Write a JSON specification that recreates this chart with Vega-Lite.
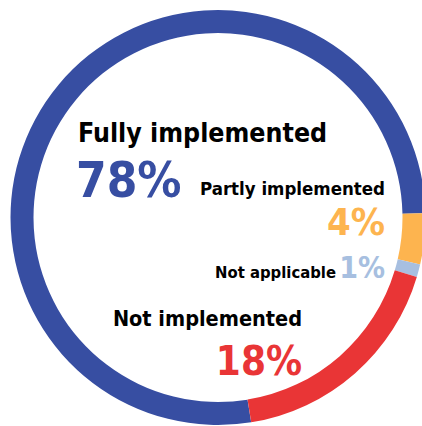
{
  "$schema": "https://vega.github.io/schema/vega-lite/v6.json",
  "width": 436,
  "height": 435,
  "padding": 0,
  "autosize": {"type": "none"},
  "background": "white",
  "view": {"stroke": null},
  "data": {
    "values": [
      {"status": "Fully implemented", "share": 0.78, "rank": 1},
      {"status": "Partly implemented", "share": 0.04, "rank": 2},
      {"status": "Not applicable", "share": 0.01, "rank": 3},
      {"status": "Not implemented", "share": 0.18, "rank": 4}
    ]
  },
  "layer": [
    {
      "mark": {"type": "arc", "outerRadius": 207.5, "innerRadius": 184.5},
      "encoding": {
        "theta": {"field": "share", "type": "quantitative", "stack": true, "scale": {"domain": [0, 1.01], "nice": false, "range": [2.981, 9.264]}},
        "order": {"field": "rank", "type": "quantitative"},
        "color": {
          "field": "status", "type": "nominal", "legend": null,
          "scale": {
            "domain": ["Fully implemented", "Partly implemented", "Not applicable", "Not implemented"],
            "range": ["#374ea2", "#fdb44f", "#a7bfe0", "#e93536"]
          }
        }
      }
    },
    {
      "transform": [{"filter": "datum.status === 'Fully implemented'"}],
      "mark": {"type": "text", "align": "left", "baseline": "alphabetic", "dx": -140, "dy": -75.5, "fontSize": 26.5, "font": "DejaVu Sans Condensed, sans-serif", "fontWeight": "bold", "color": "black"},
      "encoding": {"text": {"field": "status", "type": "nominal"}}
    },
    {
      "transform": [{"filter": "datum.status === 'Fully implemented'"}],
      "mark": {"type": "text", "align": "left", "baseline": "alphabetic", "dx": -142, "dy": -20.5, "fontSize": 49, "font": "DejaVu Sans Condensed, sans-serif", "fontWeight": "bold"},
      "encoding": {"text": {"field": "share", "type": "quantitative", "format": ".0%"}, "color": {"field": "status", "type": "nominal", "legend": null}}
    },
    {
      "transform": [{"filter": "datum.status === 'Partly implemented'"}],
      "mark": {"type": "text", "align": "right", "baseline": "alphabetic", "dx": 167, "dy": -22.5, "fontSize": 18.5, "font": "DejaVu Sans Condensed, sans-serif", "fontWeight": "bold", "color": "black"},
      "encoding": {"text": {"field": "status", "type": "nominal"}}
    },
    {
      "transform": [{"filter": "datum.status === 'Partly implemented'"}],
      "mark": {"type": "text", "align": "right", "baseline": "alphabetic", "dx": 167, "dy": 17.5, "fontSize": 38, "font": "DejaVu Sans Condensed, sans-serif", "fontWeight": "bold"},
      "encoding": {"text": {"field": "share", "type": "quantitative", "format": ".0%"}, "color": {"field": "status", "type": "nominal", "legend": null}}
    },
    {
      "transform": [{"filter": "datum.status === 'Not applicable'"}],
      "mark": {"type": "text", "align": "right", "baseline": "alphabetic", "dx": 118, "dy": 60.5, "fontSize": 16.5, "font": "DejaVu Sans Condensed, sans-serif", "fontWeight": "bold", "color": "black"},
      "encoding": {"text": {"field": "status", "type": "nominal"}}
    },
    {
      "transform": [{"filter": "datum.status === 'Not applicable'"}],
      "mark": {"type": "text", "align": "right", "baseline": "alphabetic", "dx": 167, "dy": 60.5, "fontSize": 30, "font": "DejaVu Sans Condensed, sans-serif", "fontWeight": "bold"},
      "encoding": {"text": {"field": "share", "type": "quantitative", "format": ".0%"}, "color": {"field": "status", "type": "nominal", "legend": null}}
    },
    {
      "transform": [{"filter": "datum.status === 'Not implemented'"}],
      "mark": {"type": "text", "align": "right", "baseline": "alphabetic", "dx": 84, "dy": 108.5, "fontSize": 21.5, "font": "DejaVu Sans Condensed, sans-serif", "fontWeight": "bold", "color": "black"},
      "encoding": {"text": {"field": "status", "type": "nominal"}}
    },
    {
      "transform": [{"filter": "datum.status === 'Not implemented'"}],
      "mark": {"type": "text", "align": "right", "baseline": "alphabetic", "dx": 84, "dy": 157.5, "fontSize": 40, "font": "DejaVu Sans Condensed, sans-serif", "fontWeight": "bold"},
      "encoding": {"text": {"field": "share", "type": "quantitative", "format": ".0%"}, "color": {"field": "status", "type": "nominal", "legend": null}}
    }
  ]
}
